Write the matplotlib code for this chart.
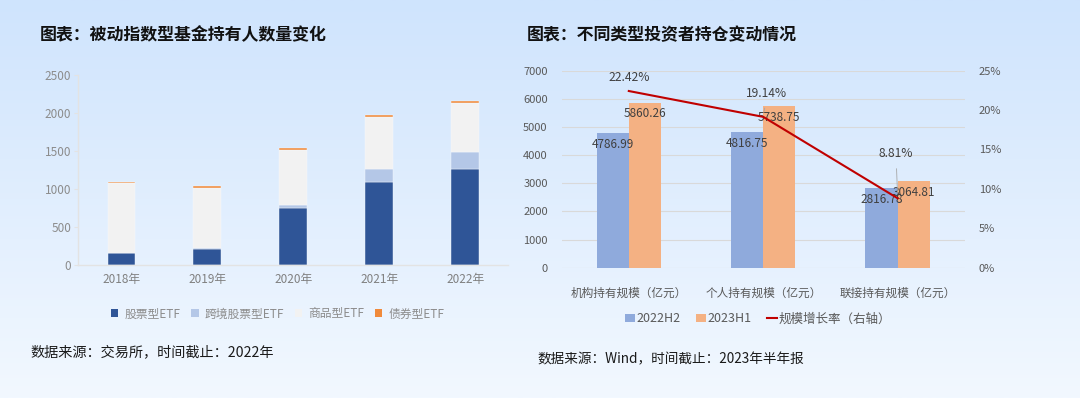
import numpy as np
import matplotlib
matplotlib.use("Agg")
from matplotlib import pyplot as plt
from matplotlib.patches import Patch
from matplotlib.lines import Line2D
from matplotlib.colors import to_rgb

plt.rcParams['font.family'] = ['Noto Sans CJK SC', 'DejaVu Sans']

# left chart: holders of passive index funds
years = ['2018年', '2019年', '2020年', '2021年', '2022年']
stock_etf = [153, 215, 754, 1088, 1259]
cross_etf = [5, 12, 35, 180, 228]
commodity_etf = [917, 791, 720, 675, 649]
bond_etf = [20, 20, 28, 24, 28]
left_series = ['股票型ETF', '跨境股票型ETF', '商品型ETF', '债券型ETF']

# right chart: holdings by investor type
groups = ['机构持有规模（亿元）', '个人持有规模（亿元）', '联接持有规模（亿元）']
h2_2022 = [4786.99, 4816.75, 2816.78]
h1_2023 = [5860.26, 5738.75, 3064.81]
growth = [22.42, 19.14, 8.81]

fig = plt.figure(figsize=(10.8, 3.98), dpi=100)

# background gradient
bg = fig.add_axes([0, 0, 1, 1], zorder=-10)
top = np.array(to_rgb('#CFE4FD'))
bot = np.array(to_rgb('#F2F8FF'))
t = np.linspace(0, 1, 256)[:, None]
grad = top[None, :] * (1 - t) + bot[None, :] * t
bg.imshow(grad[:, None, :], aspect='auto', extent=[0, 1, 0, 1])
bg.axis('off')

# ---------------- left chart ----------------
fig.text(40 / 1080, 1 - 35 / 398, '图表：被动指数型基金持有人数量变化', fontsize=12.2,
         fontweight='bold', va='center', ha='left', color='#111111')

ax1 = fig.add_axes([0.0725, 0.3342, 0.398, 0.4774])
ax1.set_facecolor('none')
x = np.arange(len(years))
colors_l = ['#2F5597', '#B4C7E7', '#F2F2F2', '#F08A3C']
bottom = np.zeros(len(years))
for vals, c in zip([stock_etf, cross_etf, commodity_etf, bond_etf], colors_l):
    ax1.bar(x, vals, width=0.32, bottom=bottom, color=c, edgecolor='#F7F9FC', linewidth=0.3)
    bottom += np.array(vals)
ax1.set_xlim(-0.5, len(years) - 0.5)
ax1.set_ylim(0, 2500)
ax1.set_yticks(range(0, 2501, 500))
ax1.set_xticks(x)
ax1.set_xticklabels(years)
for s in ['top', 'right']:
    ax1.spines[s].set_visible(False)
for s in ['left', 'bottom']:
    ax1.spines[s].set_color('#E3E3E3')
    ax1.spines[s].set_linewidth(1.0)
ax1.tick_params(axis='y', length=3, color='#E3E3E3', labelsize=8.5, labelcolor='#8C8C8C', pad=2)
ax1.tick_params(axis='x', length=0, labelsize=8.5, labelcolor='#808080', pad=6)

handles_l = [Patch(facecolor=c, edgecolor='none') for c in colors_l]
fig.legend(handles_l, left_series, loc='center', bbox_to_anchor=(0.257, 1 - 314 / 398),
           ncol=4, frameon=False, fontsize=8.5, labelcolor='#8C8C8C',
           handlelength=0.65, handleheight=0.65, handletextpad=0.5, columnspacing=0.9)

fig.text(30 / 1080, 1 - 352 / 398, '数据来源：交易所，时间截止：2022年', fontsize=10.2,
         va='center', ha='left', color='#1A1A1A')

# ---------------- right chart ----------------
fig.text(527 / 1080, 1 - 35 / 398, '图表：不同类型投资者持仓变动情况', fontsize=12.2,
         fontweight='bold', va='center', ha='left', color='#111111')

ax2 = fig.add_axes([0.520, 0.3274, 0.3734, 0.495])
ax2.set_facecolor('none')
xg = np.arange(len(groups))
bw = 0.24
ax2.bar(xg - bw / 2, h2_2022, width=bw, color='#8FAADC', zorder=2)
ax2.bar(xg + bw / 2, h1_2023, width=bw, color='#F4B183', zorder=2)
ax2.set_xlim(-0.5, len(groups) - 0.5)
ax2.set_ylim(0, 7000)
ax2.set_yticks(range(0, 7001, 1000))
ax2.yaxis.grid(True, color='#D9D9D9', linewidth=0.8, zorder=0)
ax2.set_axisbelow(True)
for s in ax2.spines.values():
    s.set_visible(False)
ax2.tick_params(axis='y', length=0, labelsize=8, labelcolor='#595959', pad=10)
ax2.tick_params(axis='x', length=0, labelsize=8.4, labelcolor='#595959', pad=14)
ax2.set_xticks(xg)
ax2.set_xticklabels(groups)

for xs, vals in [(xg - bw / 2, h2_2022), (xg + bw / 2, h1_2023)]:
    for xi, v in zip(xs, vals):
        ax2.annotate(f'{v:.2f}', (xi, v), xytext=(0, -8), textcoords='offset points',
                     ha='center', va='center', fontsize=8.5, color='#404040', zorder=5)

ax3 = ax2.twinx()
ax3.set_ylim(0, 25)
ax3.set_yticks(range(0, 26, 5))
ax3.set_yticklabels([f'{v}%' for v in range(0, 26, 5)])
for s in ax3.spines.values():
    s.set_visible(False)
ax3.tick_params(axis='y', length=0, labelsize=8, labelcolor='#595959', pad=10)
ax3.plot(xg, growth, color='#C00000', linewidth=1.5, zorder=4)

offsets = [(0, 9.4), (2.7, 17), (-1.2, 32)]
for xi, g, off in zip(xg, growth, offsets):
    arrow = None if off[1] < 12 else dict(arrowstyle='-', color='#A6A6A6', lw=0.6,
                                          shrinkA=4, shrinkB=4)
    ax3.annotate(f'{g:.2f}%', (xi, g), xytext=off, textcoords='offset points',
                 ha='center', va='center', fontsize=8.7, color='#404040',
                 arrowprops=arrow, zorder=6)

handles_r = [Patch(facecolor='#8FAADC', edgecolor='none'),
             Patch(facecolor='#F4B183', edgecolor='none'),
             Line2D([0], [0], color='#C00000', lw=1.5)]
fig.legend(handles_r, ['2022H2', '2023H1', '规模增长率（右轴）'], loc='center',
           bbox_to_anchor=(758 / 1080, 1 - 319 / 398), ncol=3, frameon=False,
           fontsize=9, labelcolor='#595959', handlelength=0.8, handleheight=0.6,
           handletextpad=0.15, columnspacing=1.2)

fig.text(537 / 1080, 1 - 359 / 398, '数据来源：Wind，时间截止：2023年半年报', fontsize=9.8,
         va='center', ha='left', color='#1A1A1A')

fig.savefig('out.png', dpi=100)
